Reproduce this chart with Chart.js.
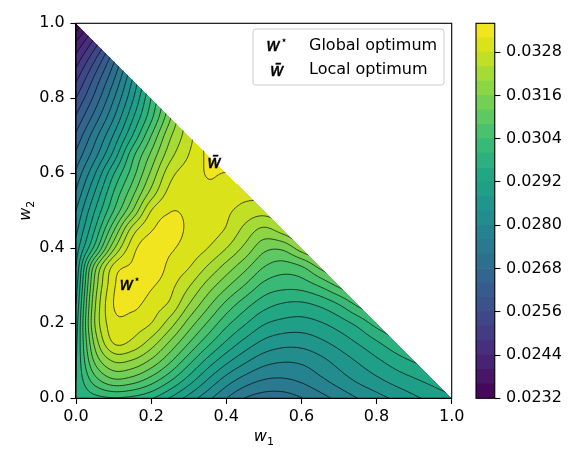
<!DOCTYPE html>
<html>
<head>
<meta charset="utf-8">
<script src="https://cdn.jsdelivr.net/npm/chart.js@4.4.1/dist/chart.umd.min.js"></script>
<style>
  html, body { margin: 0; padding: 0; background: #fff; }
  #wrap { position: relative; width: 581px; height: 465px; overflow: hidden; }
  #wrap canvas { position: absolute; top: 0; }
  #main { left: 0; }
  #cbar { left: 440px; }
</style>
</head>
<body>
<div id="wrap">
  <canvas id="main" width="581" height="465"></canvas>
  <canvas id="cbar" width="141" height="465"></canvas>
</div>
<script>
// ---- data ----
const gridStep = 0.05;                       // spacing of the value grid in w1 and w2
const w1Ticks = [0, 0.2, 0.4, 0.6, 0.8, 1.0];
const w2Ticks = [0, 0.2, 0.4, 0.6, 0.8, 1.0];
const levels = [0.0232, 0.0236, 0.0240, 0.0244, 0.0248, 0.0252, 0.0256, 0.0260, 0.0264,
                0.0268, 0.0272, 0.0276, 0.0280, 0.0284, 0.0288, 0.0292, 0.0296, 0.0300,
                0.0304, 0.0308, 0.0312, 0.0316, 0.0320, 0.0324, 0.0328, 0.0332, 0.0336];
const cbarTicks = [0.0232, 0.0244, 0.0256, 0.0268, 0.0280, 0.0292, 0.0304, 0.0316, 0.0328];
const optimaW1 = [0.144, 0.368];
const optimaW2 = [0.302, 0.632];
const optimaNames = ['Global optimum', 'Local optimum'];

// one row per w2 = 0.00, 0.05, ... 1.00 ; each row runs w1 = 0 .. 1 - w2
const riskRows = [
  [0.02960, 0.02984, 0.02996, 0.02988, 0.02964, 0.02916, 0.02864, 0.02812, 0.02760, 0.02718, 0.02700, 0.02700, 0.02718, 0.02744, 0.02772, 0.02800, 0.02824, 0.02848, 0.02872, 0.02892, 0.02912],
  [0.02960, 0.03064, 0.03116, 0.03104, 0.03064, 0.03008, 0.02944, 0.02880, 0.02824, 0.02784, 0.02760, 0.02756, 0.02768, 0.02792, 0.02820, 0.02848, 0.02872, 0.02896, 0.02916, 0.02936],
  [0.02956, 0.03128, 0.03204, 0.03196, 0.03152, 0.03088, 0.03016, 0.02948, 0.02892, 0.02848, 0.02816, 0.02804, 0.02808, 0.02828, 0.02856, 0.02884, 0.02912, 0.02940, 0.02964],
  [0.02948, 0.03172, 0.03284, 0.03272, 0.03224, 0.03156, 0.03084, 0.03016, 0.02956, 0.02908, 0.02872, 0.02856, 0.02856, 0.02872, 0.02896, 0.02924, 0.02956, 0.02990],
  [0.02936, 0.03200, 0.03304, 0.03300, 0.03280, 0.03220, 0.03144, 0.03076, 0.03012, 0.02964, 0.02924, 0.02908, 0.02904, 0.02916, 0.02940, 0.02972, 0.03016],
  [0.02920, 0.03192, 0.03320, 0.03332, 0.03300, 0.03272, 0.03200, 0.03132, 0.03068, 0.03016, 0.02976, 0.02956, 0.02952, 0.02968, 0.03000, 0.03048],
  [0.02900, 0.03172, 0.03312, 0.03356, 0.03326, 0.03292, 0.03244, 0.03184, 0.03128, 0.03076, 0.03028, 0.03012, 0.03016, 0.03044, 0.03088],
  [0.02880, 0.03140, 0.03292, 0.03328, 0.03352, 0.03308, 0.03282, 0.03236, 0.03184, 0.03132, 0.03080, 0.03060, 0.03076, 0.03130],
  [0.02856, 0.03016, 0.03192, 0.03304, 0.03344, 0.03326, 0.03304, 0.03280, 0.03240, 0.03188, 0.03132, 0.03128, 0.03180],
  [0.02828, 0.02960, 0.03112, 0.03256, 0.03316, 0.03334, 0.03314, 0.03300, 0.03276, 0.03228, 0.03192, 0.03220],
  [0.02800, 0.02920, 0.03040, 0.03160, 0.03280, 0.03318, 0.03314, 0.03304, 0.03288, 0.03264, 0.03256],
  [0.02764, 0.02880, 0.03000, 0.03104, 0.03212, 0.03292, 0.03308, 0.03314, 0.03310, 0.03296],
  [0.02728, 0.02836, 0.02956, 0.03060, 0.03168, 0.03264, 0.03300, 0.03322, 0.03319],
  [0.02688, 0.02784, 0.02892, 0.03024, 0.03128, 0.03224, 0.03280, 0.03328],
  [0.02648, 0.02744, 0.02844, 0.02960, 0.03080, 0.03192, 0.03264],
  [0.02604, 0.02696, 0.02796, 0.02912, 0.03028, 0.03152],
  [0.02560, 0.02652, 0.02756, 0.02872, 0.03000],
  [0.02512, 0.02612, 0.02716, 0.02840],
  [0.02460, 0.02560, 0.02672],
  [0.02400, 0.02496],
  [0.02321]
];

// ---- styling ----
const FONT = '"DejaVu Sans", sans-serif';
const PLOT = { left: 76, top: 23.3, right: 451.7, bottom: 398.3 };
const CBAR = { left: 476, right: 494.75 };
const CBAR_CANVAS_LEFT = 440, CBAR_CANVAS_W = 141;
const H = 465, W = 581;

const VIRIDIS = ['#440154', '#471365', '#482475', '#463480', '#414487', '#3b528b', '#355f8d',
  '#2f6c8e', '#2a788e', '#25848e', '#21918c', '#1e9c89', '#22a884', '#2fb47c', '#44bf70',
  '#5ec962', '#7ad151', '#9bd93c', '#bddf26', '#dfe318', '#fde725'].map(h => [
    parseInt(h.slice(1, 3), 16), parseInt(h.slice(3, 5), 16), parseInt(h.slice(5, 7), 16)]);

function viridis(t) {
  const s = Math.max(0, Math.min(1, t)) * (VIRIDIS.length - 1);
  const i = Math.min(Math.floor(s), VIRIDIS.length - 2);
  const f = s - i, a = VIRIDIS[i], b = VIRIDIS[i + 1];
  return [0, 1, 2].map(k => Math.round(a[k] + (b[k] - a[k]) * f));
}

const nBands = levels.length - 1;
const bandRGB = levels.slice(0, -1).map((_, k) => viridis((k + 0.5) / nBands));

function bandOf(v) {
  let b = 0;
  while (b < nBands - 1 && v >= levels[b + 1]) b++;
  return b;
}

// grid padded past the simplex edges so the smooth surface can be sampled up to the border
const N = riskRows.length - 1, PAD = 2, SIZE = N + 1 + 2 * PAD;
const ext = (() => {
  const E = Array.from({ length: SIZE }, () => new Array(SIZE).fill(null));
  riskRows.forEach((row, j) => row.forEach((v, i) => { E[j + PAD][i + PAD] = v; }));
  let missing = true;
  while (missing) {
    missing = false;
    const next = E.map(r => r.slice());
    for (let j = 0; j < SIZE; j++) {
      for (let i = 0; i < SIZE; i++) {
        if (E[j][i] !== null) continue;
        const guesses = [];
        [[1, 0], [-1, 0], [0, 1], [0, -1]].forEach(([dx, dy]) => {
          const a = E[j + dy] && E[j + dy][i + dx], b = E[j + 2 * dy] && E[j + 2 * dy][i + 2 * dx];
          if (a != null && b != null) guesses.push(2 * a - b);
        });
        if (guesses.length) next[j][i] = guesses.reduce((s, g) => s + g, 0) / guesses.length;
        else missing = true;
      }
    }
    E.splice(0, SIZE, ...next);
  }
  return E;
})();

function cr(p0, p1, p2, p3, t) {
  return 0.5 * (2 * p1 + (p2 - p0) * t + (2 * p0 - 5 * p1 + 4 * p2 - p3) * t * t + (3 * p1 - p0 - 3 * p2 + p3) * t * t * t);
}

function fieldAt(w1, w2) {
  const gx = w1 / gridStep, gy = w2 / gridStep;
  const i = Math.max(0, Math.min(N - 1, Math.floor(gx))), j = Math.max(0, Math.min(N - 1, Math.floor(gy)));
  const t = gx - i, u = gy - j;
  const col = [];
  for (let r = -1; r <= 2; r++) {
    const row = ext[j + r + PAD];
    col.push(cr(row[i - 1 + PAD], row[i + PAD], row[i + 1 + PAD], row[i + 2 + PAD], t));
  }
  return cr(col[0], col[1], col[2], col[3], u);
}

function simplexPath(ctx, x, y) {
  ctx.beginPath();
  ctx.moveTo(x.getPixelForValue(0), y.getPixelForValue(0));
  ctx.lineTo(x.getPixelForValue(1), y.getPixelForValue(0));
  ctx.lineTo(x.getPixelForValue(0), y.getPixelForValue(1));
  ctx.closePath();
}

const fieldPlugin = {
  id: 'field',
  beforeDatasetsDraw(chart) {
    const { ctx, chartArea: a, scales: { x, y } } = chart;
    const x0 = Math.floor(a.left), y0 = Math.floor(a.top);
    const w = Math.ceil(a.right) - x0, h = Math.ceil(a.bottom) - y0;
    const off = document.createElement('canvas');
    off.width = w; off.height = h;
    const octx = off.getContext('2d');
    const img = octx.createImageData(w, h);
    for (let py = 0; py < h; py++) {
      const w2 = y.getValueForPixel(y0 + py + 0.5);
      for (let px = 0; px < w; px++) {
        const w1 = x.getValueForPixel(x0 + px + 0.5);
        if (w1 < 0 || w2 < 0 || w1 + w2 > 1) continue;
        const c = bandRGB[bandOf(fieldAt(w1, w2))];
        const k = (py * w + px) * 4;
        img.data[k] = c[0]; img.data[k + 1] = c[1]; img.data[k + 2] = c[2]; img.data[k + 3] = 255;
      }
    }
    octx.putImageData(img, 0, 0);
    ctx.save();
    ctx.beginPath();
    ctx.rect(a.left, a.top, a.width, a.height);
    ctx.clip();
    ctx.drawImage(off, x0, y0);
    ctx.restore();

    // contour lines by marching squares on a fine sampling of the surface
    const step = 1.5;
    const nx = Math.ceil(a.width / step) + 1, ny = Math.ceil(a.height / step) + 1;
    const vals = new Float64Array(nx * ny);
    for (let iy = 0; iy < ny; iy++) {
      const w2 = y.getValueForPixel(a.top + iy * step);
      for (let ix = 0; ix < nx; ix++) {
        const w1 = x.getValueForPixel(a.left + ix * step);
        vals[iy * nx + ix] = (w1 + w2 <= 1.02) ? fieldAt(w1, w2) : NaN;
      }
    }
    const inner = levels.slice(1, -1);
    ctx.save();
    simplexPath(ctx, x, y);
    ctx.clip();
    ctx.beginPath();
    for (let iy = 0; iy < ny - 1; iy++) {
      for (let ix = 0; ix < nx - 1; ix++) {
        const v00 = vals[iy * nx + ix], v10 = vals[iy * nx + ix + 1];
        const v01 = vals[(iy + 1) * nx + ix], v11 = vals[(iy + 1) * nx + ix + 1];
        if (isNaN(v00) || isNaN(v10) || isNaN(v01) || isNaN(v11)) continue;
        const lo = Math.min(v00, v10, v01, v11), hi = Math.max(v00, v10, v01, v11);
        const px = a.left + ix * step, py = a.top + iy * step;
        inner.forEach(lv => {
          if (lv < lo || lv > hi) return;
          const pts = [];
          const edge = (xa, ya, va, xb, yb, vb) => {
            if ((va >= lv) !== (vb >= lv)) {
              const t = (lv - va) / (vb - va);
              pts.push([xa + (xb - xa) * t, ya + (yb - ya) * t]);
            }
          };
          edge(px, py, v00, px + step, py, v10);
          edge(px + step, py, v10, px + step, py + step, v11);
          edge(px + step, py + step, v11, px, py + step, v01);
          edge(px, py + step, v01, px, py, v00);
          for (let k = 0; k + 1 < pts.length; k += 2) {
            ctx.moveTo(pts[k][0], pts[k][1]);
            ctx.lineTo(pts[k + 1][0], pts[k + 1][1]);
          }
        });
      }
    }
    ctx.strokeStyle = 'rgba(0,0,0,0.85)';
    ctx.lineWidth = 0.8;
    ctx.stroke();
    ctx.restore();
  },
  afterDatasetsDraw(chart) {
    const { ctx, chartArea: a } = chart;
    ctx.save();
    ctx.strokeStyle = '#000';
    ctx.lineWidth = 1.1;
    ctx.strokeRect(a.left, a.top, a.width, a.height);
    ctx.restore();
    const meta = chart.getDatasetMeta(0);
    meta.data.forEach((pt, k) => drawMarker(ctx, pt.x, pt.y, k === 0 ? 'star' : 'bar'));
  },
  afterDraw(chart) {
    const { ctx, chartArea: a } = chart;
    ctx.save();
    const bx = 253, by = 29, bw = 191, bh = 56;
    ctx.beginPath();
    ctx.roundRect(bx, by, bw, bh, 3);
    ctx.fillStyle = 'rgba(255,255,255,0.8)';
    ctx.fill();
    ctx.strokeStyle = '#cccccc';
    ctx.lineWidth = 1;
    ctx.stroke();
    optimaNames.forEach((name, k) => {
      const cy = by + 17 + k * 23.5;
      drawMarker(ctx, 277, cy, k === 0 ? 'star' : 'bar');
      ctx.fillStyle = '#000';
      ctx.font = `16px ${FONT}`;
      ctx.textBaseline = 'middle';
      ctx.fillText(name, 309, cy);
    });
    drawSubLabel(ctx, (a.left + a.right) / 2, 441, '1', 0);
    drawSubLabel(ctx, 30, (a.top + a.bottom) / 2, '2', -Math.PI / 2);
    ctx.restore();
  }
};

function drawMarker(ctx, cx, cy, kind) {
  const size = 17;
  ctx.save();
  ctx.fillStyle = '#000';
  ctx.strokeStyle = '#000';
  ctx.lineWidth = 0.5;
  ctx.textBaseline = 'alphabetic';
  ctx.font = `italic ${size}px ${FONT}`;
  const ww = ctx.measureText('w').width;
  if (kind === 'star') {
    const small = Math.round(size * 0.7);
    ctx.font = `${small}px ${FONT}`;
    const sw = ctx.measureText('\u22C6').width;
    const x0 = cx - (ww + sw) / 2, base = cy + size * 0.3;
    ctx.font = `italic ${size}px ${FONT}`;
    ctx.fillText('w', x0, base); ctx.strokeText('w', x0, base);
    ctx.font = `${small}px ${FONT}`;
    ctx.fillText('\u22C6', x0 + ww, base - size * 0.42);
  } else {
    const base = cy + size * 0.38;
    ctx.fillText('w\u0304', cx - ww / 2, base);
    ctx.strokeText('w\u0304', cx - ww / 2, base);
  }
  ctx.restore();
}

function drawSubLabel(ctx, cx, cy, sub, rot) {
  ctx.save();
  ctx.translate(cx, cy);
  ctx.rotate(rot);
  ctx.fillStyle = '#000';
  ctx.textBaseline = 'alphabetic';
  ctx.font = `italic 16px ${FONT}`;
  const ww = ctx.measureText('w').width;
  ctx.font = `11px ${FONT}`;
  const sw = ctx.measureText(sub).width;
  const x0 = -(ww + sw) / 2;
  ctx.font = `italic 16px ${FONT}`;
  ctx.fillText('w', x0, 0);
  ctx.font = `11px ${FONT}`;
  ctx.fillText(sub, x0 + ww, 4);
  ctx.restore();
}

const tickFont = { family: FONT, size: 16 };

new Chart(document.getElementById('main'), {
  type: 'scatter',
  data: {
    datasets: [{
      data: optimaW1.map((v, k) => ({ x: v, y: optimaW2[k] })),
      pointRadius: 0,
      pointHoverRadius: 0
    }]
  },
  options: {
    responsive: false,
    animation: false,
    devicePixelRatio: 1,
    layout: { padding: { top: PLOT.top, right: W - PLOT.right, bottom: 0, left: 0 } },
    plugins: { legend: { display: false }, tooltip: { enabled: false } },
    scales: {
      x: {
        type: 'linear', min: 0, max: 1,
        afterBuildTicks: ax => { ax.ticks = w1Ticks.map(v => ({ value: v })); },
        afterFit: s => { s.height = H - PLOT.bottom; },
        ticks: { callback: v => v.toFixed(1), font: tickFont, color: '#000', padding: 3, maxRotation: 0, autoSkip: false },
        grid: { drawOnChartArea: false, drawTicks: true, tickLength: 5.6, tickColor: '#000', tickWidth: 1.1 },
        border: { color: '#000', width: 1.1 }
      },
      y: {
        type: 'linear', min: 0, max: 1,
        afterBuildTicks: ax => { ax.ticks = w2Ticks.map(v => ({ value: v })); },
        afterFit: s => { s.width = PLOT.left; },
        ticks: { callback: v => v.toFixed(1), font: tickFont, color: '#000', padding: 5.6, autoSkip: false },
        grid: { drawOnChartArea: false, drawTicks: true, tickLength: 5.6, tickColor: '#000', tickWidth: 1.1 },
        border: { color: '#000', width: 1.1 }
      }
    }
  },
  plugins: [fieldPlugin]
});

// ---- colour bar ----
const cbarOutline = {
  id: 'cbarOutline',
  afterDatasetsDraw(chart) {
    const { ctx, chartArea: a } = chart;
    ctx.save();
    ctx.strokeStyle = '#000';
    ctx.lineWidth = 1.1;
    ctx.strokeRect(a.left, a.top, a.width, a.height);
    ctx.restore();
  }
};

new Chart(document.getElementById('cbar'), {
  type: 'bar',
  data: {
    labels: [''],
    datasets: levels.slice(0, -1).map((lo, k) => ({
      data: [[lo, levels[k + 1]]],
      backgroundColor: `rgb(${bandRGB[k].join(',')})`,
      borderWidth: 0,
      barPercentage: 1,
      categoryPercentage: 1,
      grouped: false
    }))
  },
  options: {
    responsive: false,
    animation: false,
    devicePixelRatio: 1,
    layout: { padding: { top: PLOT.top, bottom: H - PLOT.bottom, left: CBAR.left - CBAR_CANVAS_LEFT, right: 0 } },
    plugins: { legend: { display: false }, tooltip: { enabled: false } },
    scales: {
      x: { display: false },
      y: {
        position: 'right',
        min: levels[0], max: levels[levels.length - 1],
        afterBuildTicks: ax => { ax.ticks = cbarTicks.map(v => ({ value: v })); },
        afterFit: s => { s.width = CBAR_CANVAS_W - (CBAR.right - CBAR_CANVAS_LEFT); },
        ticks: { callback: v => v.toFixed(4), font: tickFont, color: '#000', padding: 5.6, autoSkip: false },
        grid: { drawOnChartArea: false, drawTicks: true, tickLength: 5.6, tickColor: '#000', tickWidth: 1.1 },
        border: { display: false }
      }
    }
  },
  plugins: [cbarOutline]
});
</script>
</body>
</html>
